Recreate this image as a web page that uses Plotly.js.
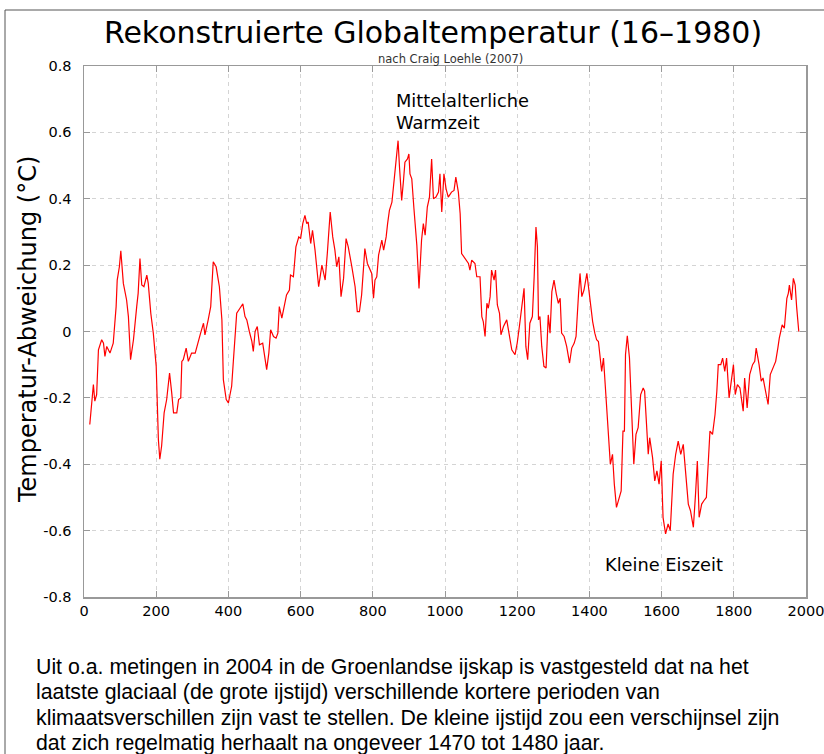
<!DOCTYPE html>
<html>
<head>
<meta charset="utf-8">
<script src="https://cdn.plot.ly/plotly-3.0.1.min.js"></script>
<style>
html,body{margin:0;padding:0;background:#fff;}
#chart{width:824px;height:754px;}
</style>
</head>
<body>
<div id="chart"></div>
<script>
const years = [16,26,30,35,40,49,54,58,63,72,81,89,92,98,102,109,118,123,129,137,146,150,155,160,166,174,178,185,192,200,206,210,215,222,229,237,243,248,257,262,268,271,275,283,289,298,308,317,323,331,335,344,351,358,366,375,382,386,394,400,409,414,419,423,432,440,446,451,458,465,469,474,480,486,495,501,506,512,517,525,532,537,541,548,554,561,569,572,580,587,595,600,606,612,617,621,628,633,640,645,650,659,668,674,682,689,695,700,706,712,719,726,732,742,751,757,763,769,778,785,792,797,802,806,811,816,820,825,830,837,841,846,853,859,866,870,874,880,885,889,896,900,903,908,914,922,928,935,940,945,951,957,963,968,975,982,986,991,997,1003,1009,1018,1025,1030,1037,1042,1046,1055,1065,1069,1074,1083,1088,1097,1102,1106,1111,1116,1120,1125,1129,1136,1140,1145,1151,1155,1162,1171,1178,1185,1194,1200,1206,1212,1219,1224,1229,1235,1242,1247,1252,1256,1259,1263,1268,1274,1280,1286,1291,1296,1302,1308,1314,1319,1323,1330,1337,1345,1351,1358,1363,1370,1374,1379,1385,1393,1397,1403,1409,1415,1420,1425,1429,1434,1439,1446,1453,1458,1464,1469,1475,1481,1488,1493,1497,1500,1505,1511,1517,1523,1529,1535,1542,1549,1553,1559,1563,1567,1575,1581,1587,1593,1599,1604,1611,1618,1624,1632,1639,1646,1653,1660,1667,1674,1680,1688,1694,1699,1704,1711,1717,1724,1729,1734,1741,1748,1753,1757,1764,1769,1775,1780,1787,1794,1799,1804,1810,1817,1821,1826,1830,1837,1844,1852,1858,1862,1870,1876,1881,1886,1895,1901,1908,1916,1922,1926,1934,1940,1947,1951,1954,1960,1965,1970,1974,1980];
const anomalies = [-0.28,-0.16,-0.21,-0.19,-0.055,-0.025,-0.035,-0.075,-0.045,-0.065,-0.035,0.075,0.155,0.195,0.243,0.145,0.095,0.045,-0.085,-0.025,0.075,0.115,0.22,0.14,0.135,0.17,0.145,0.055,-0.005,-0.105,-0.325,-0.385,-0.345,-0.245,-0.205,-0.125,-0.185,-0.245,-0.245,-0.205,-0.2,-0.09,-0.085,-0.05,-0.09,-0.065,-0.065,-0.025,-0.005,0.025,-0.01,0.035,0.075,0.21,0.195,0.135,0.035,-0.145,-0.205,-0.215,-0.165,-0.085,0.005,0.055,0.07,0.083,0.045,0.035,0.0,-0.03,-0.06,0.0,0.015,-0.04,-0.035,-0.075,-0.115,-0.065,0.005,-0.015,-0.02,-0.005,0.075,0.04,0.075,0.11,0.125,0.17,0.165,0.255,0.285,0.28,0.325,0.35,0.325,0.33,0.265,0.305,0.245,0.185,0.135,0.2,0.155,0.235,0.36,0.285,0.245,0.195,0.225,0.105,0.16,0.28,0.255,0.195,0.135,0.06,0.06,0.11,0.25,0.205,0.19,0.175,0.1,0.155,0.165,0.23,0.25,0.275,0.245,0.285,0.325,0.365,0.39,0.455,0.525,0.575,0.495,0.395,0.455,0.51,0.52,0.535,0.475,0.46,0.37,0.26,0.13,0.275,0.325,0.29,0.375,0.405,0.52,0.4,0.405,0.42,0.475,0.36,0.475,0.43,0.405,0.42,0.425,0.465,0.42,0.355,0.235,0.22,0.205,0.185,0.215,0.205,0.165,0.165,0.045,0.03,-0.015,0.085,0.07,0.105,0.185,0.155,0.185,0.08,0.055,-0.01,0.015,0.035,-0.01,-0.055,-0.07,-0.035,0.015,0.075,0.13,-0.045,-0.085,0.025,0.045,0.165,0.315,0.255,0.035,0.045,-0.045,-0.105,-0.11,0.05,-0.005,0.12,0.155,0.115,0.085,0.1,-0.005,-0.015,-0.045,-0.095,-0.05,-0.035,-0.015,0.115,0.175,0.105,0.125,0.175,0.135,0.085,0.03,-0.005,-0.025,-0.03,-0.063,-0.12,-0.08,-0.2,-0.33,-0.4,-0.37,-0.46,-0.53,-0.51,-0.48,-0.3,-0.3,-0.07,-0.013,-0.08,-0.23,-0.4,-0.31,-0.29,-0.19,-0.17,-0.18,-0.32,-0.37,-0.32,-0.38,-0.45,-0.42,-0.46,-0.39,-0.56,-0.61,-0.58,-0.6,-0.43,-0.37,-0.33,-0.37,-0.34,-0.43,-0.52,-0.54,-0.59,-0.49,-0.39,-0.56,-0.52,-0.51,-0.5,-0.4,-0.3,-0.31,-0.25,-0.18,-0.1,-0.1,-0.08,-0.12,-0.08,-0.2,-0.13,-0.1,-0.19,-0.16,-0.17,-0.2,-0.24,-0.14,-0.23,-0.13,-0.1,-0.09,-0.05,-0.1,-0.15,-0.14,-0.17,-0.22,-0.13,-0.11,-0.09,-0.05,-0.02,0.02,0.01,0.1,0.115,0.14,0.095,0.16,0.14,0.075,0.0];

const xTicks = [0,200,400,600,800,1000,1200,1400,1600,1800,2000];
const yTicks = [-0.8,-0.6,-0.4,-0.2,0,0.2,0.4,0.6,0.8];
const yTickLabels = ['-0.8','-0.6','-0.4','-0.2','0','0.2','0.4','0.6','0.8'];

const titleText = 'Rekonstruierte Globaltemperatur (16–1980)';
const subtitleText = 'nach Craig Loehle (2007)';
const yTitleText = 'Temperatur-Abweichung (°C)';
const noteWarm = ['Mittelalterliche', 'Warmzeit'];
const noteCold = 'Kleine Eiszeit';
const paragraph = [
  'Uit o.a. metingen in 2004 in de Groenlandse ijskap is vastgesteld dat na het',
  'laatste glaciaal (de grote ijstijd) verschillende kortere perioden van',
  'klimaatsverschillen zijn vast te stellen. De kleine ijstijd zou een verschijnsel zijn',
  'dat zich regelmatig herhaalt na ongeveer 1470 tot 1480 jaar.'
];

const PL = 84, PR = 806, PT = 66, PB = 597, W = 824, H = 754;
const px2paperX = p => (p - PL) / (PR - PL);
const px2paperY = p => (PB - p) / (PB - PT);

const font = 'DejaVu Sans, Verdana, sans-serif';

const annotations = [
  {text: subtitleText, xref:'paper', yref:'paper', x: px2paperX(450), y: px2paperY(59), xanchor:'center', yanchor:'middle', showarrow:false, font:{family:font, size:11.5, color:'#333'}},
  {text: yTitleText, xref:'paper', yref:'paper', x: px2paperX(28), y: px2paperY(330), xanchor:'center', yanchor:'middle', textangle:-90, showarrow:false, font:{family:font, size:24, color:'#000'}},
  {text: noteWarm[0], xref:'paper', yref:'paper', x: px2paperX(394), y: px2paperY(100), xanchor:'left', yanchor:'middle', showarrow:false, font:{family:font, size:17.8, color:'#000'}},
  {text: noteWarm[1], xref:'paper', yref:'paper', x: px2paperX(394), y: px2paperY(122), xanchor:'left', yanchor:'middle', showarrow:false, font:{family:font, size:17.8, color:'#000'}},
  {text: noteCold, xref:'paper', yref:'paper', x: px2paperX(603), y: px2paperY(564), xanchor:'left', yanchor:'middle', showarrow:false, font:{family:font, size:17.8, color:'#000'}}
];
const paraY = [667, 692, 718, 743];
paragraph.forEach((t, i) => {
  annotations.push({text: t, xref:'paper', yref:'paper', x: px2paperX(34), y: px2paperY(paraY[i]), xanchor:'left', yanchor:'middle', showarrow:false, font:{family:'Liberation Sans, Arial, sans-serif', size:21.3, color:'#000'}});
});

const shapes = [
  {type:'line', xref:'paper', yref:'paper', x0: px2paperX(5), x1: px2paperX(5), y0: px2paperY(10), y1: px2paperY(760), line:{color:'#555', width:1}},
  {type:'line', xref:'paper', yref:'paper', x0: px2paperX(5), x1: px2paperX(830), y0: px2paperY(10), y1: px2paperY(10), line:{color:'#555', width:1}}
];

const trace = {
  x: years, y: anomalies, type:'scatter', mode:'lines',
  line:{color:'#ff0000', width:1.2}, hoverinfo:'x+y'
};

const axisCommon = {
  showline:true, mirror:'ticks', linecolor:'#999', linewidth:1.5,
  ticks:'inside', ticklen:6, tickcolor:'#999', tickwidth:1,
  showgrid:true, gridcolor:'#d4d4d4', griddash:'4px,4px', gridwidth:1,
  zeroline:false, ticklabeloverflow:'allow', automargin:false,
  tickfont:{family:font, size:14.5, color:'#000'}
};

const layout = {
  width: W, height: H,
  margin:{l:PL, r:W-PR, t:PT, b:H-PB, pad:0},
  paper_bgcolor:'#fff', plot_bgcolor:'#fff',
  showlegend:false,
  title:{text: titleText, font:{family:font, size:30, color:'#000'}, x: 433/W, xanchor:'center', y: 1 - 32/H, yanchor:'middle', xref:'container', yref:'container'},
  xaxis: Object.assign({}, axisCommon, {range:[0,2000], tickvals:xTicks, ticktext:xTicks.map(String)}),
  yaxis: Object.assign({}, axisCommon, {range:[-0.8,0.8], tickvals:yTicks, ticktext:yTickLabels, ticklabelstandoff:8}),
  annotations: annotations,
  shapes: shapes
};

Plotly.newPlot('chart', [trace], layout, {staticPlot:true, displayModeBar:false});
</script>
</body>
</html>
